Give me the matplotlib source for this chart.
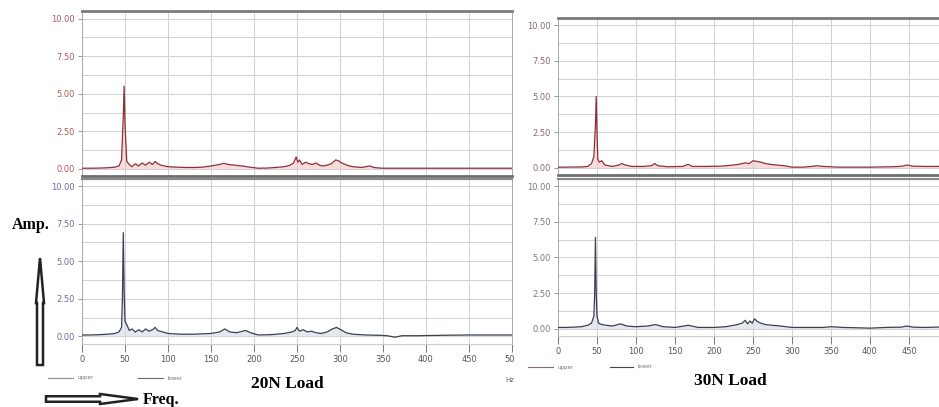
import matplotlib.pyplot as plt
from matplotlib.patches import FancyArrow
from matplotlib.ticker import MultipleLocator, FormatStrFormatter

# ---- spectrum data (Hz, amplitude) ----
f_20_up = [0, 10, 20, 30, 38, 43, 46, 48, 49, 50, 52, 55, 58, 62, 66, 70, 74, 78, 82, 85,
           88, 92, 100, 110, 120, 130, 140, 150, 160, 165, 170, 178, 186, 195, 205, 215,
           225, 235, 242, 246, 249, 251, 253, 256, 260, 264, 268, 272, 276, 280, 285, 290,
           295, 298, 302, 308, 315, 325, 335, 338, 342, 350, 370, 400, 430, 460, 500]
a_20_up = [0.05, 0.05, 0.06, 0.08, 0.12, 0.2, 0.6, 3.5, 5.5, 3.0, 0.5, 0.3, 0.15, 0.35, 0.2,
           0.4, 0.25, 0.45, 0.3, 0.5, 0.35, 0.25, 0.15, 0.12, 0.1, 0.1, 0.12, 0.2, 0.3, 0.38,
           0.3, 0.25, 0.2, 0.12, 0.05, 0.06, 0.1, 0.15, 0.25, 0.4, 0.8, 0.45, 0.6, 0.3, 0.45,
           0.35, 0.3, 0.4, 0.25, 0.2, 0.25, 0.35, 0.6, 0.55, 0.4, 0.25, 0.15, 0.1, 0.2, 0.12,
           0.08, 0.05, 0.05, 0.05, 0.05, 0.05, 0.05]

f_20_lo = [0, 10, 20, 30, 38, 43, 46, 47, 48, 49, 50, 52, 55, 58, 62, 66, 70, 74, 78, 82,
           85, 88, 94, 100, 115, 130, 150, 160, 166, 172, 180, 190, 196, 205, 220, 235, 244,
           248, 250, 253, 257, 262, 267, 272, 278, 285, 291, 296, 301, 307, 315, 330, 345,
           355, 364, 372, 390, 420, 450, 480, 500]
a_20_lo = [0.1, 0.1, 0.12, 0.15, 0.2, 0.3, 0.6, 2.5, 6.9, 3.0, 1.0, 0.8, 0.4, 0.5, 0.3,
           0.45, 0.3, 0.5, 0.35, 0.45, 0.6, 0.4, 0.3, 0.2, 0.15, 0.15, 0.2, 0.3, 0.5, 0.3,
           0.25, 0.4, 0.25, 0.1, 0.12, 0.2, 0.3, 0.4, 0.6, 0.35, 0.45, 0.3, 0.35, 0.25, 0.2,
           0.3, 0.5, 0.6, 0.45, 0.25, 0.15, 0.1, 0.08, 0.05, -0.05, 0.05, 0.05, 0.08, 0.1,
           0.1, 0.1]

f_30_up = [0, 10, 20, 30, 38, 43, 46, 48, 49, 50, 51, 53, 56, 60, 70, 78, 82, 86, 95, 110,
           120, 124, 128, 140, 160, 167, 172, 190, 210, 225, 232, 240, 245, 250, 255, 260,
           266, 272, 280, 290, 300, 315, 325, 332, 340, 360, 400, 430, 442, 447, 455, 470,
           485, 500]
a_30_up = [0.05, 0.05, 0.06, 0.06, 0.1, 0.3, 0.8, 3.0, 5.0, 2.5, 0.6, 0.4, 0.5, 0.2, 0.1,
           0.2, 0.3, 0.2, 0.1, 0.1, 0.15, 0.3, 0.15, 0.08, 0.1, 0.25, 0.1, 0.1, 0.12, 0.2,
           0.25, 0.35, 0.3, 0.5, 0.45, 0.4, 0.3, 0.25, 0.2, 0.15, 0.05, 0.05, 0.1, 0.15, 0.1,
           0.05, 0.05, 0.08, 0.12, 0.2, 0.12, 0.1, 0.1, 0.12]

f_30_lo = [0, 10, 20, 30, 38, 43, 46, 47, 48, 49, 50, 52, 56, 62, 70, 80, 88, 100, 115,
           125, 135, 150, 167, 180, 200, 215, 230, 236, 240, 243, 246, 249, 252, 256, 260,
           266, 275, 285, 300, 320, 340, 350, 365, 380, 400, 420, 440, 447, 455, 470, 485,
           500]
a_30_lo = [0.1, 0.1, 0.12, 0.15, 0.25, 0.4, 0.9, 2.4, 6.4, 2.5, 0.9, 0.4, 0.3, 0.25, 0.2,
           0.35, 0.2, 0.15, 0.2, 0.3, 0.15, 0.1, 0.25, 0.1, 0.1, 0.15, 0.3, 0.4, 0.6, 0.35,
           0.55, 0.4, 0.7, 0.5, 0.4, 0.3, 0.25, 0.2, 0.1, 0.1, 0.1, 0.15, 0.1, 0.08, 0.05,
           0.1, 0.12, 0.2, 0.12, 0.1, 0.12, 0.15]

x_ticks_left = [0, 50, 100, 150, 200, 250, 300, 350, 400, 450, 500]
x_ticks_right = [0, 50, 100, 150, 200, 250, 300, 350, 400, 450]
y_ticks = [0, 2.5, 5, 7.5, 10]

W, H = 939, 407
fig = plt.figure(figsize=(W / 100, H / 100), dpi=100)
fig.patch.set_facecolor('white')


def px_rect(x0, y0, x1, y1):
    # pixel box (top-left origin) -> figure fraction rect
    return [x0 / W, 1 - y1 / H, (x1 - x0) / W, (y1 - y0) / H]


def make_panel(rect, f, a, line_col, fill_col, lab_col, xticks, zorder):
    ax = fig.add_axes(px_rect(*rect), zorder=zorder)
    ax.set_xlim(0, 500)
    ax.set_ylim(-0.5, 10.5)
    ax.fill_between(f, 0, a, color=fill_col, lw=0, alpha=0.6, zorder=2)
    ax.plot(f, a, color=line_col, lw=0.9, zorder=3)
    ax.xaxis.set_major_locator(MultipleLocator(50))
    ax.set_yticks(y_ticks)
    ax.yaxis.set_minor_locator(MultipleLocator(1.25))
    ax.yaxis.set_major_formatter(FormatStrFormatter('%.2f'))
    ax.grid(True, which='both', axis='y', color='#cdd0d6', lw=0.7)
    ax.grid(True, which='major', axis='x', color='#cdd0d6', lw=0.7)
    ax.set_axisbelow(True)
    ax.tick_params(axis='y', which='major', length=3, width=0.6, color='#888888',
                   labelsize=6, labelcolor=lab_col, pad=2)
    ax.tick_params(axis='y', which='minor', length=0)
    if xticks:
        ax.set_xticks(xticks)
        ax.tick_params(axis='x', length=6, width=0.7, color='#777777',
                       labelsize=6, labelcolor='#555555', pad=2)
        ax.spines['bottom'].set_color('#c9ccd2')
        ax.spines['bottom'].set_linewidth(0.8)
        ax.spines['top'].set_color('#8a8a8a')
        ax.spines['top'].set_linewidth(1.6)
    else:
        ax.tick_params(axis='x', length=0, labelbottom=False)
        ax.spines['top'].set_color('#7a7a7a')
        ax.spines['top'].set_linewidth(2.0)
        ax.spines['bottom'].set_color('#6e6e6e')
        ax.spines['bottom'].set_linewidth(2.0)
    for s in ('left', 'right'):
        ax.spines[s].set_color('#aaaaaa')
        ax.spines[s].set_linewidth(0.7)
    return ax


red, pink = '#8e2f35', '#f2c6c8'
navy, pale = '#3a3f52', '#d5d9e4'

make_panel((82, 11, 512, 176.5), f_20_up, a_20_up, red, pink, '#b0585c', None, 1)
make_panel((82, 178.5, 512, 344), f_20_lo, a_20_lo, navy, pale, '#6a6f98', x_ticks_left, 1)

# right image sits on top of the left one and hides its edge
cover = fig.add_axes(px_rect(514, 0, W, H), zorder=1.5)
cover.axis('off')
cover.add_patch(plt.Rectangle((0, 0), 1, 1, transform=cover.transAxes,
                              color='white', zorder=0))

make_panel((558, 18, 948, 175), f_30_up, a_30_up, red, pink, '#8a6a6c', None, 2)
make_panel((558, 179, 948, 336), f_30_lo, a_30_lo, navy, pale, '#777a88', x_ticks_right, 2)

# ---- annotations ----
serif = 'Liberation Serif'
fig.text(287 / W, 1 - 384 / H, '20N Load', family=serif, weight='bold', fontsize=12.5,
         ha='center', va='center')
fig.text(730 / W, 1 - 381 / H, '30N Load', family=serif, weight='bold', fontsize=12.5,
         ha='center', va='center', zorder=3)
fig.text(31 / W, 1 - 225 / H, 'Amp.', family=serif, weight='bold', fontsize=11.5,
         ha='center', va='center')
fig.text(143 / W, 1 - 400 / H, 'Freq.', family=serif, weight='bold', fontsize=11.5,
         ha='left', va='center')
fig.text(510 / W, 1 - 380 / H, 'Hz', fontsize=5, color='#666666', ha='center', va='center')

# legends
for (x0, x1, y, lab, col) in [(48, 73, 378, 'upper', '#a08888'), (138, 163, 378, 'lower', '#666a78'),
                              (528, 553, 367, 'upper', '#8a6a6a'), (610, 633, 367, 'lower', '#444444')]:
    fig.add_artist(plt.Line2D([x0 / W, x1 / W], [1 - y / H, 1 - y / H], color=col, lw=0.8,
                              transform=fig.transFigure, zorder=3))
    fig.text((x1 + 4) / W, 1 - y / H, lab, fontsize=4, color='#777777', ha='left',
             va='center', zorder=3)

# hollow arrows
up = FancyArrow(0.40, (H - 365) / 100, 0, 1.07, width=0.06, head_width=0.08,
                head_length=0.45, length_includes_head=True, transform=fig.dpi_scale_trans,
                facecolor='white', edgecolor='#222222', lw=1.8)
right = FancyArrow(0.46, (H - 399) / 100, 0.92, 0, width=0.055, head_width=0.1,
                   head_length=0.38, length_includes_head=True, transform=fig.dpi_scale_trans,
                   facecolor='white', edgecolor='#222222', lw=1.8)
fig.add_artist(up)
fig.add_artist(right)

fig.savefig('out.png', dpi=100, facecolor='white')
